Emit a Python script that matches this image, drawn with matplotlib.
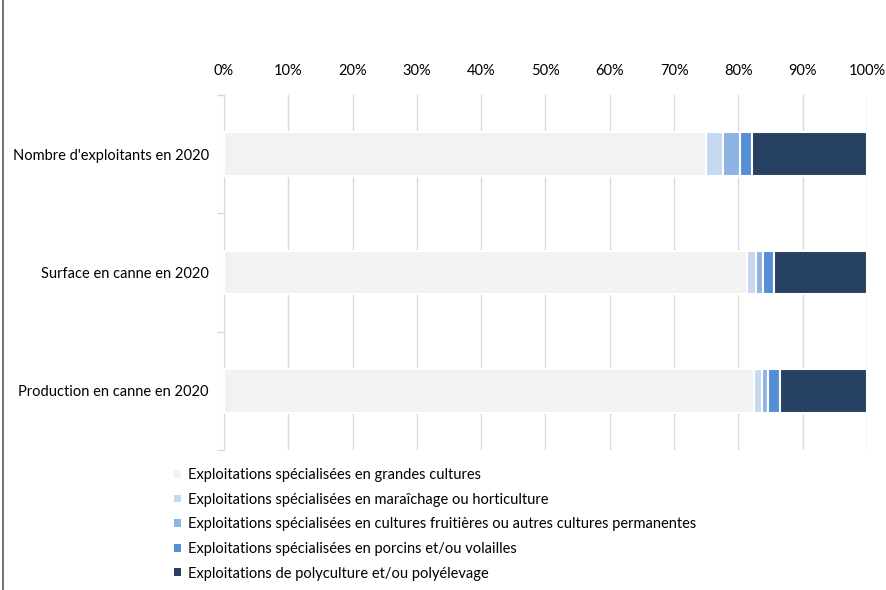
import matplotlib
matplotlib.use("Agg")
import matplotlib.pyplot as plt
from matplotlib.patches import Patch
from matplotlib.lines import Line2D
import numpy as np

categories = ["Nombre d'exploitants en 2020", "Surface en canne en 2020", "Production en canne en 2020"]
series_names = [
    "Exploitations spécialisées en grandes cultures",
    "Exploitations spécialisées en maraîchage ou horticulture",
    "Exploitations spécialisées en cultures fruitières ou autres cultures permanentes",
    "Exploitations spécialisées en porcins et/ou volailles",
    "Exploitations de polyculture et/ou polyélevage",
]
grandes_cultures = [75.0, 81.4, 82.5]
maraichage = [2.6, 1.4, 1.2]
fruitieres = [2.6, 1.1, 0.9]
porcins = [1.9, 1.7, 1.9]
polyculture = [17.9, 14.4, 13.5]
series_values = [grandes_cultures, maraichage, fruitieres, porcins, polyculture]
colors = ["#F2F2F2", "#C6D9F1", "#8EB4E3", "#558ED5", "#254061"]
xtick_values = list(range(0, 101, 10))
xtick_labels = [f"{v}%" for v in xtick_values]

plt.rcParams['font.family'] = ['Lato', 'DejaVu Sans']

fig = plt.figure(figsize=(8.87, 5.9), dpi=100)
ax = fig.add_axes([224/887, 1-450/590, (867-224)/887, (450-95)/590])

y = np.arange(len(categories))
left = np.zeros(len(categories))
for name, vals, c in zip(series_names, series_values, colors):
    ax.barh(y, vals, left=left, height=0.37, color=c, edgecolor="white",
            linewidth=1.5, label=name, zorder=3)
    left += np.array(vals)

ax.set_xlim(0, 100)
ax.set_ylim(2.5, -0.5)
ax.xaxis.tick_top()
ax.set_xticks(xtick_values)
ax.set_xticklabels(xtick_labels, fontsize=10.5)
ax.tick_params(axis="x", length=0, pad=12)
ax.set_yticks(y)
ax.set_yticklabels(categories, fontsize=10.5)
ax.set_yticks([-0.5, 0.5, 1.5, 2.5], minor=True)
ax.tick_params(axis="y", which="major", length=0, pad=11)
ax.tick_params(axis="y", which="minor", length=5, color="#D9D9D9", width=1)
ax.grid(axis="x", color="#D9D9D9", linewidth=1, zorder=0)
for s in ["top", "right", "bottom"]:
    ax.spines[s].set_visible(False)
ax.spines["left"].set_color("#D9D9D9")
ax.spines["left"].set_zorder(1)

handles = [Patch(facecolor=c, edgecolor="none") for c in colors]
fig.legend(handles, series_names, loc="upper left", bbox_to_anchor=(174/887, 1-468/590),
           frameon=False, fontsize=10.5, handlelength=0.45, handleheight=0.45,
           handletextpad=0.5, labelspacing=0.73, borderaxespad=0, borderpad=0)

fig.add_artist(Line2D([3.5/887, 3.5/887], [0, 1], transform=fig.transFigure,
                      color="#595959", linewidth=1.2))

fig.savefig("out.png", dpi=100)
